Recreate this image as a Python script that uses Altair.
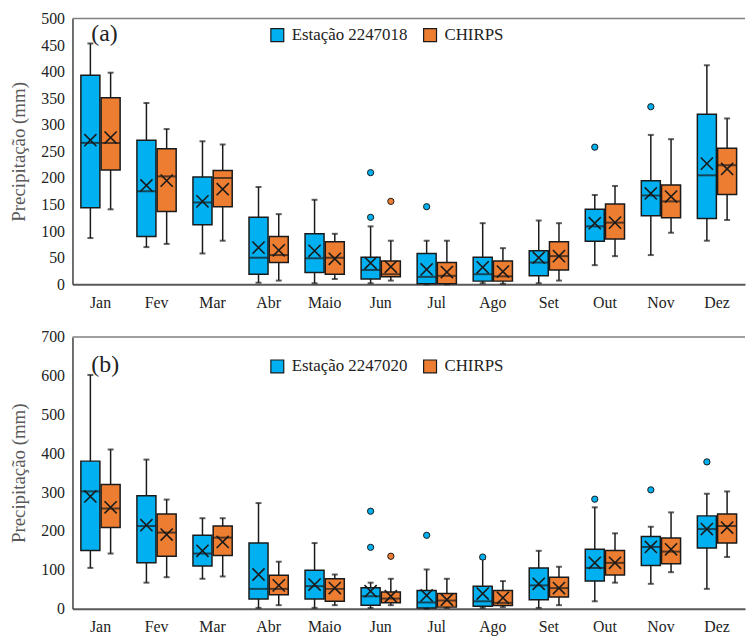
import altair as alt
import pandas as pd

MONTHS = ["Jan", "Fev", "Mar", "Abr", "Maio", "Jun", "Jul", "Ago", "Set", "Out", "Nov", "Dez"]

# ---- Panel (a): Estação 2247018 vs CHIRPS ----
A_ST_NAME = "Estação 2247018"
A_ST_MIN = [87, 70, 58, 3, 2, 2, 0, 2, 2, 36, 55, 82]
A_ST_Q1 = [144, 90, 112, 19, 22, 10, 1, 6, 16, 81, 129, 124]
A_ST_MED = [266, 175, 154, 50, 49, 27, 14, 19, 41, 109, 167, 205]
A_ST_MEAN = [271, 186, 156, 69, 63, 40, 28, 32, 50, 115, 171, 227]
A_ST_Q3 = [393, 271, 202, 126, 95, 51, 58, 51, 63, 141, 195, 320]
A_ST_MAX = [453, 341, 269, 183, 159, 109, 82, 115, 120, 168, 281, 412]
A_ST_OUT_MONTH = ["Jun", "Jun", "Jul", "Out", "Nov"]
A_ST_OUT_VAL = [210, 126, 146, 258, 334]

A_CH_MIN = [141, 76, 82, 7, 10, 7, 0, 1, 7, 53, 97, 121]
A_CH_Q1 = [215, 137, 146, 41, 19, 14, 1, 6, 27, 85, 125, 169]
A_CH_MED = [266, 203, 200, 55, 50, 19, 16, 15, 53, 116, 156, 224]
A_CH_MEAN = [276, 195, 179, 64, 48, 33, 23, 24, 53, 116, 165, 217]
A_CH_Q3 = [351, 255, 214, 90, 80, 44, 41, 44, 80, 151, 187, 256]
A_CH_MAX = [398, 292, 263, 132, 95, 82, 82, 68, 115, 185, 273, 312]
A_CH_OUT_MONTH = ["Jun"]
A_CH_OUT_VAL = [156]

# ---- Panel (b): Estação 2247020 vs CHIRPS ----
B_ST_NAME = "Estação 2247020"
B_ST_MIN = [105, 67, 77, 2, 2, 2, 0, 2, 2, 19, 64, 51]
B_ST_Q1 = [150, 118, 110, 25, 25, 9, 2, 6, 23, 71, 111, 156]
B_ST_MED = [302, 213, 142, 51, 58, 32, 16, 19, 60, 105, 159, 205]
B_ST_MEAN = [289, 215, 149, 88, 62, 45, 34, 39, 64, 118, 159, 205]
B_ST_Q3 = [380, 291, 189, 169, 99, 54, 47, 58, 105, 153, 186, 239]
B_ST_MAX = [602, 384, 233, 272, 169, 67, 101, 128, 149, 261, 211, 296]
B_ST_OUT_MONTH = ["Jun", "Jun", "Jul", "Ago", "Out", "Nov", "Dez"]
B_ST_OUT_VAL = [251, 158, 189, 133, 282, 306, 378]

B_CH_MIN = [142, 81, 83, 9, 9, 9, 2, 4, 9, 67, 94, 133]
B_CH_Q1 = [209, 135, 137, 36, 19, 15, 4, 8, 30, 87, 116, 169]
B_CH_MED = [258, 196, 183, 51, 51, 26, 21, 15, 53, 118, 147, 213]
B_CH_MEAN = [261, 191, 172, 60, 53, 32, 23, 28, 53, 118, 153, 209]
B_CH_Q3 = [320, 244, 213, 86, 77, 43, 39, 47, 81, 150, 182, 244]
B_CH_MAX = [410, 281, 233, 121, 88, 77, 77, 71, 108, 194, 248, 302]
B_CH_OUT_MONTH = ["Jun"]
B_CH_OUT_VAL = [135]

BLUE = "#00B0F0"
ORANGE = "#ED7D31"
INK = "#1a1a1a"
FONT = "Times New Roman, Liberation Serif, DejaVu Serif, serif"
W = 678


def stats_df(name, mn, q1, med, mean, q3, mx):
    return pd.DataFrame({"month": MONTHS, "series": name, "mn": mn, "q1": q1,
                         "med": med, "mean": mean, "q3": q3, "mx": mx})


def out_df(name, months, vals):
    return pd.DataFrame({"month": months, "series": name, "v": vals})


def panel(df, odf, names, ymax, ystep, label, label_y, legend_y, height):
    def X():
        return alt.X("month:N", sort=MONTHS, title=None,
                     scale=alt.Scale(domain=MONTHS, paddingInner=0, paddingOuter=0),
                     axis=alt.Axis(labelAngle=0, ticks=False, grid=False, domainColor="#595959",
                                   domainWidth=2, labelPadding=10, labelFontSize=16,
                                   labelColor="#222222", labelFont=FONT))

    def XO():
        return alt.XOffset("series:N", sort=names,
                           scale=alt.Scale(domain=names, paddingInner=0.06, paddingOuter=0.415))

    def Y(field):
        return alt.Y(field, title="Precipitação (mm)",
                     scale=alt.Scale(domain=[0, ymax], nice=False),
                     axis=alt.Axis(values=list(range(0, ymax + 1, ystep)), ticks=False, tickSize=0,
                                   grid=False, domainColor="#404040", domainWidth=1.5,
                                   labelPadding=8, labelFontSize=16, labelColor="#222222",
                                   labelFont=FONT, titleFont=FONT,
                                   titleFontSize=19, titleColor="#595959", titleFontWeight="normal",
                                   titlePadding=12))

    color_scale = alt.Scale(domain=names, range=[BLUE, ORANGE])
    base = alt.Chart(df)
    whisk = base.mark_rule(color=INK, strokeWidth=1.5).encode(
        x=X(), xOffset=XO(), y=Y("mn:Q"), y2="mx:Q")
    cap_lo = base.mark_tick(color=INK, size=6, thickness=2).encode(x=X(), xOffset=XO(), y=Y("mn:Q"))
    cap_hi = base.mark_tick(color=INK, size=6, thickness=2).encode(x=X(), xOffset=XO(), y=Y("mx:Q"))
    box = base.mark_bar(stroke=INK, strokeWidth=1.5, opacity=1).encode(
        x=X(), xOffset=XO(), y=Y("q1:Q"), y2="q3:Q",
        color=alt.Color("series:N", scale=color_scale,
                        legend=alt.Legend(orient="none", legendX=198, legendY=legend_y,
                                          direction="horizontal", title=None, symbolType="square",
                                          symbolSize=169, symbolStrokeColor=INK,
                                          symbolStrokeWidth=1.2, symbolOpacity=1,
                                          labelFont=FONT, labelFontSize=17, labelColor="#222222",
                                          labelOffset=6, columnPadding=13)))
    med = base.mark_tick(color=INK, size=19, thickness=2).encode(x=X(), xOffset=XO(), y=Y("med:Q"))
    mean = base.mark_point(shape="M-1,-1L1,1M-1,1L1,-1", size=150, color=INK, strokeWidth=1.6,
                           filled=False, opacity=1).encode(x=X(), xOffset=XO(), y=Y("mean:Q"))
    outl = alt.Chart(odf).mark_circle(size=40, stroke=INK, strokeWidth=1, opacity=1).encode(
        x=X(), xOffset=XO(), y=Y("v:Q"),
        color=alt.Color("series:N", scale=color_scale, legend=None))
    one = alt.Chart(pd.DataFrame({"k": [0]}))
    top = one.mark_rule(color="#808080", strokeWidth=1.5).encode(
        y=alt.value(0), x=alt.value(0), x2=alt.value(W))
    txt = one.mark_text(text=label, font=FONT, fontSize=24, align="left", baseline="middle",
                        color="#222222").encode(x=alt.value(19), y=alt.value(label_y))
    return alt.layer(whisk, cap_lo, cap_hi, box, med, mean, outl, top, txt).properties(
        width=W, height=height)


a_df = pd.concat([stats_df(A_ST_NAME, A_ST_MIN, A_ST_Q1, A_ST_MED, A_ST_MEAN, A_ST_Q3, A_ST_MAX),
                  stats_df("CHIRPS", A_CH_MIN, A_CH_Q1, A_CH_MED, A_CH_MEAN, A_CH_Q3, A_CH_MAX)])
a_out = pd.concat([out_df(A_ST_NAME, A_ST_OUT_MONTH, A_ST_OUT_VAL),
                   out_df("CHIRPS", A_CH_OUT_MONTH, A_CH_OUT_VAL)])
b_df = pd.concat([stats_df(B_ST_NAME, B_ST_MIN, B_ST_Q1, B_ST_MED, B_ST_MEAN, B_ST_Q3, B_ST_MAX),
                  stats_df("CHIRPS", B_CH_MIN, B_CH_Q1, B_CH_MED, B_CH_MEAN, B_CH_Q3, B_CH_MAX)])
b_out = pd.concat([out_df(B_ST_NAME, B_ST_OUT_MONTH, B_ST_OUT_VAL),
                   out_df("CHIRPS", B_CH_OUT_MONTH, B_CH_OUT_VAL)])

pa = panel(a_df, a_out, [A_ST_NAME, "CHIRPS"], 500, 50, "(a)", 16, 8, 268)
pb = panel(b_df, b_out, [B_ST_NAME, "CHIRPS"], 700, 100, "(b)", 28, 21, 274)

chart = alt.vconcat(pa, pb, spacing=19).resolve_scale(
    color="independent", y="independent", x="independent", xOffset="independent"
).resolve_legend(color="independent").properties(
    padding={"left": 2, "top": 0, "right": 0, "bottom": 0}
).configure_view(stroke=None).configure_axis(
    labelFont=FONT, titleFont=FONT
).configure_legend(labelFont=FONT).configure_text(font=FONT)

chart.save("out.html", embed_options={"renderer": "svg", "actions": False})
